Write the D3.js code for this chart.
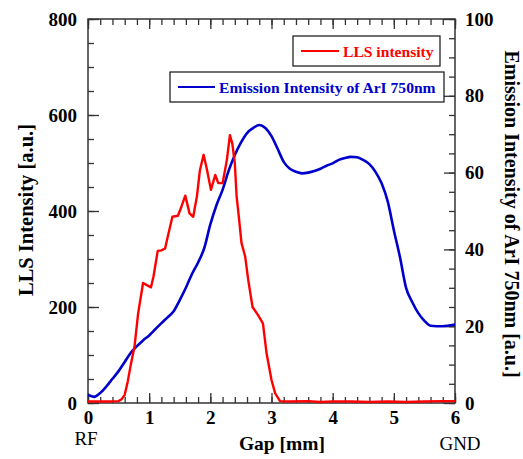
<!DOCTYPE html>
<html>
<head>
<meta charset="utf-8">
<script src="https://cdn.jsdelivr.net/npm/d3@7"></script>
<style>
  body { margin: 0; background: #fff; }
  svg { font-family: "Liberation Serif", "Times New Roman", serif; }
  .tick text { font-family: "Liberation Serif", "Times New Roman", serif; font-weight: bold; font-size: 19px; fill: #000; }
</style>
</head>
<body>
<svg id="chart" width="523" height="459"></svg>
<script>
// gap position along the electrode gap (mm)
const llsGap = [0, 0.3, 0.5, 0.55, 0.6, 0.65, 0.7, 0.76, 0.82, 0.9, 0.97, 1.03, 1.07, 1.14, 1.2, 1.26,
  1.31, 1.38, 1.47, 1.53, 1.59, 1.66, 1.72, 1.78, 1.83, 1.89, 1.94, 2.01, 2.08, 2.13, 2.2, 2.27,
  2.32, 2.36, 2.4, 2.43, 2.46, 2.51, 2.57, 2.62, 2.69, 2.78, 2.86, 2.92, 3.0, 3.06, 3.14, 3.3,
  3.6, 3.8, 4.0, 4.3, 4.6, 4.9, 5.2, 5.5, 5.8, 6.0];
const llsValue = [3, 3, 4, 8, 17, 45, 80, 117, 187, 250, 245, 241, 263, 317, 318, 322,
  350, 388, 390, 410, 432, 395, 388, 430, 485, 517, 489, 444, 475, 458, 458, 506,
  558, 540, 500, 430, 395, 333, 305, 256, 200, 183, 166, 103, 48, 20, 4, 3,
  4, 2, 3, 3, 2, 3, 2, 3, 4, 4];

const emGap = [0, 0.1, 0.2, 0.3, 0.4, 0.5, 0.6, 0.7, 0.8, 0.9, 1.0, 1.1, 1.2, 1.3, 1.4, 1.5,
  1.6, 1.7, 1.8, 1.9, 2.0, 2.1, 2.2, 2.3, 2.4, 2.5, 2.6, 2.7, 2.8, 2.9, 3.0, 3.1,
  3.2, 3.3, 3.4, 3.5, 3.6, 3.7, 3.8, 3.9, 4.0, 4.1, 4.2, 4.3, 4.4, 4.5, 4.6, 4.7,
  4.8, 4.9, 5.0, 5.1, 5.2, 5.3, 5.4, 5.5, 5.6, 5.7, 5.8, 5.9, 6.0];
const emValue = [2.1, 1.6, 2.6, 4.3, 6.3, 8.3, 10.7, 13.1, 14.8, 16.3, 17.6, 19.2, 20.8, 22.3, 23.9, 26.8,
  30.0, 33.6, 36.6, 40.3, 46.5, 51.5, 55.5, 60.5, 64.6, 67.8, 70.3, 71.6, 72.4, 71.6, 69.5, 66.2,
  62.8, 61.0, 60.2, 59.8, 60.0, 60.4, 61.0, 61.8, 62.4, 63.3, 63.8, 64.1, 64.0, 63.3, 62.2, 60.2,
  57.2, 52.5, 45.0, 38.0, 30.0, 26.3, 23.4, 21.4, 20.1, 20.0, 20.0, 20.2, 20.4];

const xTicks = [0, 1, 2, 3, 4, 5, 6];
const leftTicks = [0, 200, 400, 600, 800];
const rightTicks = [0, 20, 40, 60, 80, 100];

const svg = d3.select("#chart");
const pLeft = 88, pRight = 455, pTop = 19, pBottom = 403;

const x = d3.scaleLinear().domain([0, 6]).range([pLeft, pRight]);
const yL = d3.scaleLinear().domain([0, 800]).range([pBottom, pTop]);
const yR = d3.scaleLinear().domain([0, 100]).range([pBottom, pTop]);

// minor ticks first, majors with labels on top
function addAxis(axis, tf) {
  const g = svg.append("g").attr("transform", tf).call(axis);
  g.attr("font-family", null).attr("font-size", null);
  g.select(".domain").remove();
  g.selectAll(".tick line").attr("stroke", "#333").attr("stroke-width", 1.3);
  return g;
}

addAxis(d3.axisBottom(x).tickValues(d3.range(0, 6.01, 0.2)).tickSize(-6).tickFormat(""), `translate(0,${pBottom})`);
addAxis(d3.axisBottom(x).tickValues(xTicks).tickSize(-10).tickPadding(8).tickFormat(d3.format("d")), `translate(0,${pBottom})`);
addAxis(d3.axisTop(x).tickValues(d3.range(0, 6.01, 0.2)).tickSize(-6).tickFormat(""), `translate(0,${pTop})`);
addAxis(d3.axisTop(x).tickValues(xTicks).tickSize(-10).tickFormat(""), `translate(0,${pTop})`);

addAxis(d3.axisLeft(yL).tickValues(d3.range(0, 801, 50)).tickSize(-6).tickFormat(""), `translate(${pLeft},0)`);
addAxis(d3.axisLeft(yL).tickValues(leftTicks).tickSize(-11).tickPadding(11).tickFormat(d3.format("d")), `translate(${pLeft},0)`);
addAxis(d3.axisRight(yR).tickValues(d3.range(0, 101, 5)).tickSize(-6).tickFormat(""), `translate(${pRight},0)`);
addAxis(d3.axisRight(yR).tickValues(rightTicks).tickSize(-11).tickPadding(10).tickFormat(d3.format("d")), `translate(${pRight},0)`);

// frame
svg.append("rect")
  .attr("x", pLeft).attr("y", pTop)
  .attr("width", pRight - pLeft).attr("height", pBottom - pTop)
  .attr("fill", "none").attr("stroke", "#333").attr("stroke-width", 1.5);

// curves
const llsLine = d3.line().x((d, i) => x(llsGap[i])).y(d => yL(d));
const emLine = d3.line().x((d, i) => x(emGap[i])).y(d => yR(d)).curve(d3.curveMonotoneX);

svg.append("path").datum(emValue)
  .attr("d", emLine)
  .attr("fill", "none").attr("stroke", "#0000cc").attr("stroke-width", 2.6);

svg.append("path").datum(llsValue)
  .attr("d", llsLine)
  .attr("fill", "none").attr("stroke", "#ff0000").attr("stroke-width", 2.4)
  .attr("stroke-linejoin", "round");

// legends
function legend(x0, y0, w, h, color, label, lineLen) {
  const g = svg.append("g");
  g.append("rect").attr("x", x0).attr("y", y0).attr("width", w).attr("height", h)
    .attr("fill", "#fff").attr("stroke", "#111").attr("stroke-width", 1.2);
  g.append("line").attr("x1", x0 + 8).attr("x2", x0 + 8 + lineLen)
    .attr("y1", y0 + h / 2).attr("y2", y0 + h / 2)
    .attr("stroke", color).attr("stroke-width", 2.2);
  g.append("text").attr("x", x0 + 12 + lineLen).attr("y", y0 + h / 2 + 5.5)
    .attr("fill", color).attr("font-weight", "bold").attr("font-size", "15.6px")
    .text(label);
}
legend(293, 36, 147, 30, "#ff0000", "LLS intensity", 38);
legend(170, 72, 274, 30, "#0000cc", "Emission Intensity of ArI 750nm", 37);

// axis titles
svg.append("text")
  .attr("transform", "translate(33,210) rotate(-90)")
  .attr("text-anchor", "middle").attr("font-weight", "bold").attr("font-size", "20.5px")
  .text("LLS Intensity [a.u.]");

svg.append("text")
  .attr("transform", "translate(505,214) rotate(90)")
  .attr("text-anchor", "middle").attr("font-weight", "bold").attr("font-size", "20px")
  .text("Emission Intensity of ArI 750nm [a.u.]");

svg.append("text")
  .attr("x", 282).attr("y", 450)
  .attr("text-anchor", "middle").attr("font-weight", "bold").attr("font-size", "19.5px")
  .text("Gap [mm]");

svg.append("text")
  .attr("x", 86).attr("y", 445)
  .attr("text-anchor", "middle").attr("font-size", "19px")
  .text("RF");

svg.append("text")
  .attr("x", 460).attr("y", 450)
  .attr("text-anchor", "middle").attr("font-size", "19px")
  .text("GND");
</script>
</body>
</html>
